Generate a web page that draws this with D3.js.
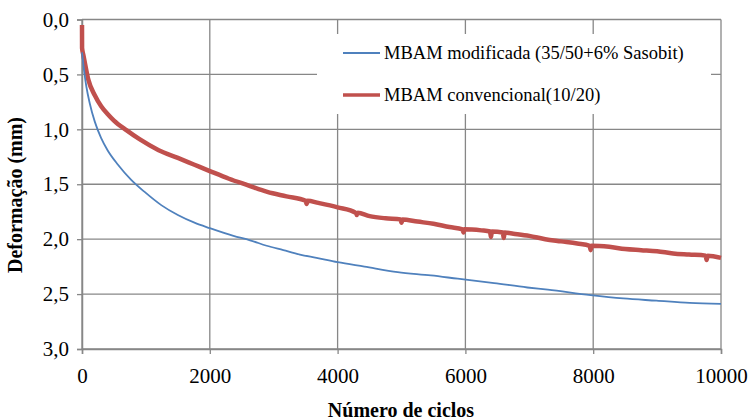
<!DOCTYPE html>
<html>
<head>
<meta charset="utf-8">
<script src="https://cdn.jsdelivr.net/npm/d3@7"></script>
<style>
  html, body { margin: 0; padding: 0; background: #fff; }
  svg { display: block; }
  text { font-family: "Liberation Serif", "Times New Roman", serif; fill: #000; }
</style>
</head>
<body>
<svg id="chart" width="751" height="420"></svg>
<script>
// ---- data ----
const xTicks = [0, 2000, 4000, 6000, 8000, 10000];
const yTicks = [0, 0.5, 1.0, 1.5, 2.0, 2.5, 3.0];

const seriesNames = ["MBAM modificada (35/50+6% Sasobit)", "MBAM convencional(10/20)"];

const blueCycles = [0, 16, 40, 68, 120, 200, 300, 400, 560, 770, 980, 1240, 1500, 1760, 2000, 2370, 2630, 2890, 3150, 3410, 3670, 4000, 4420, 4940, 5460, 5880, 6450, 6970, 7290, 7960, 8470, 8990, 9510, 10000];
const blueValues = [0.30, 0.38, 0.50, 0.61, 0.76, 0.93, 1.08, 1.19, 1.32, 1.46, 1.57, 1.69, 1.78, 1.85, 1.90, 1.97, 2.01, 2.06, 2.10, 2.14, 2.17, 2.21, 2.25, 2.30, 2.33, 2.36, 2.40, 2.44, 2.46, 2.51, 2.54, 2.56, 2.58, 2.59];

const redCycles = [0, 1, 20, 40, 100, 200, 300, 400, 500, 700, 900, 1200, 1500, 1750, 2000, 2300, 2600, 2900, 3200, 3500, 3515, 3530, 3700, 4000, 4285, 4300, 4315, 4500, 4750, 4985, 5000, 5015, 5250, 5500, 5750, 5955, 5970, 5985, 6250, 6385, 6400, 6415, 6585, 6600, 6615, 6750, 7000, 7250, 7500, 7750, 7945, 7960, 7975, 8250, 8500, 8750, 9000, 9250, 9500, 9760, 9775, 9790, 10000];
const redValues = [0.05, 0.26, 0.32, 0.38, 0.55, 0.69, 0.79, 0.86, 0.92, 1.01, 1.09, 1.19, 1.26, 1.32, 1.38, 1.45, 1.51, 1.57, 1.61, 1.65, 1.68, 1.65, 1.67, 1.71, 1.76, 1.78, 1.76, 1.79, 1.81, 1.82, 1.85, 1.82, 1.84, 1.86, 1.89, 1.91, 1.94, 1.91, 1.92, 1.93, 1.98, 1.93, 1.94, 1.99, 1.94, 1.95, 1.97, 2.00, 2.02, 2.04, 2.06, 2.10, 2.06, 2.07, 2.09, 2.10, 2.11, 2.13, 2.14, 2.15, 2.19, 2.15, 2.17];

// ---- drawing ----
const svg = d3.select("#chart");
const x = d3.scaleLinear().domain([0, 10000]).range([82, 721]);
const y = d3.scaleLinear().domain([0, 3]).range([19.5, 349]);
const gridColor = "#878787";
const fmtY = v => d3.format(".1f")(v).replace(".", ",");

// gridlines
svg.append("g").selectAll("line").data(yTicks).join("line")
  .attr("x1", x(0)).attr("x2", x(10000))
  .attr("y1", d => y(d)).attr("y2", d => y(d))
  .attr("stroke", gridColor).attr("stroke-width", 1.3);
svg.append("g").selectAll("line").data(xTicks).join("line")
  .attr("x1", d => x(d)).attr("x2", d => x(d))
  .attr("y1", y(0)).attr("y2", y(3))
  .attr("stroke", gridColor).attr("stroke-width", 1.3);

// axes
const xAxis = d3.axisBottom(x).tickValues(xTicks).tickSize(5).tickPadding(14).tickFormat(d3.format("d"));
const gx = svg.append("g").attr("transform", `translate(0,${y(3)})`).call(xAxis);
gx.select(".domain").attr("stroke", gridColor).attr("stroke-width", 1.5);
gx.selectAll(".tick line").attr("stroke", gridColor).attr("stroke-width", 1.3);
gx.selectAll(".tick text").attr("font-family", "Liberation Serif, Times New Roman, serif").attr("font-size", 21).attr("fill", "#000");

const yAxis = d3.axisLeft(y).tickValues(yTicks).tickSize(5).tickPadding(8).tickFormat(fmtY);
const gy = svg.append("g").attr("transform", `translate(${x(0)},0)`).call(yAxis);
gy.select(".domain").attr("stroke", gridColor).attr("stroke-width", 1.5);
gy.selectAll(".tick line").attr("stroke", gridColor).attr("stroke-width", 1.3);
gy.selectAll(".tick text").attr("font-family", "Liberation Serif, Times New Roman, serif").attr("font-size", 21).attr("fill", "#000");

// axis titles
svg.append("text").attr("x", 401).attr("y", 417).attr("text-anchor", "middle")
  .attr("font-weight", "bold").attr("font-size", 20).text("Número de ciclos");
svg.append("text").attr("transform", "translate(22,195) rotate(-90)").attr("text-anchor", "middle")
  .attr("font-weight", "bold").attr("font-size", 20).text("Deformação (mm)");

// legend
const leg = svg.append("g");
leg.append("rect").attr("x", 317).attr("y", 34).attr("width", 394).attr("height", 80).attr("fill", "#fff");
const legColors = ["#4F81BD", "#C0504D"];
const legWidths = [2, 3.5];
const legY = [53, 95];
seriesNames.forEach((n, i) => {
  leg.append("line").attr("x1", 343).attr("x2", 380).attr("y1", legY[i]).attr("y2", legY[i])
    .attr("stroke", legColors[i]).attr("stroke-width", legWidths[i]);
  leg.append("text").attr("x", 384).attr("y", legY[i] + 6).attr("font-size", 18.5).text(n);
});

// series
const line = d3.line().curve(d3.curveMonotoneX).x(d => x(d[0])).y(d => y(d[1]));
const blueData = blueCycles.map((c, i) => [c, blueValues[i]]);
const redData = redCycles.map((c, i) => [c, redValues[i]]);
svg.append("path").datum(redData).attr("d", line).attr("fill", "none")
  .attr("stroke", "#C0504D").attr("stroke-width", 4.5).attr("stroke-linejoin", "round");
svg.append("path").datum(blueData).attr("d", line).attr("fill", "none")
  .attr("stroke", "#4F81BD").attr("stroke-width", 1.8).attr("stroke-linejoin", "round");
</script>
</body>
</html>
